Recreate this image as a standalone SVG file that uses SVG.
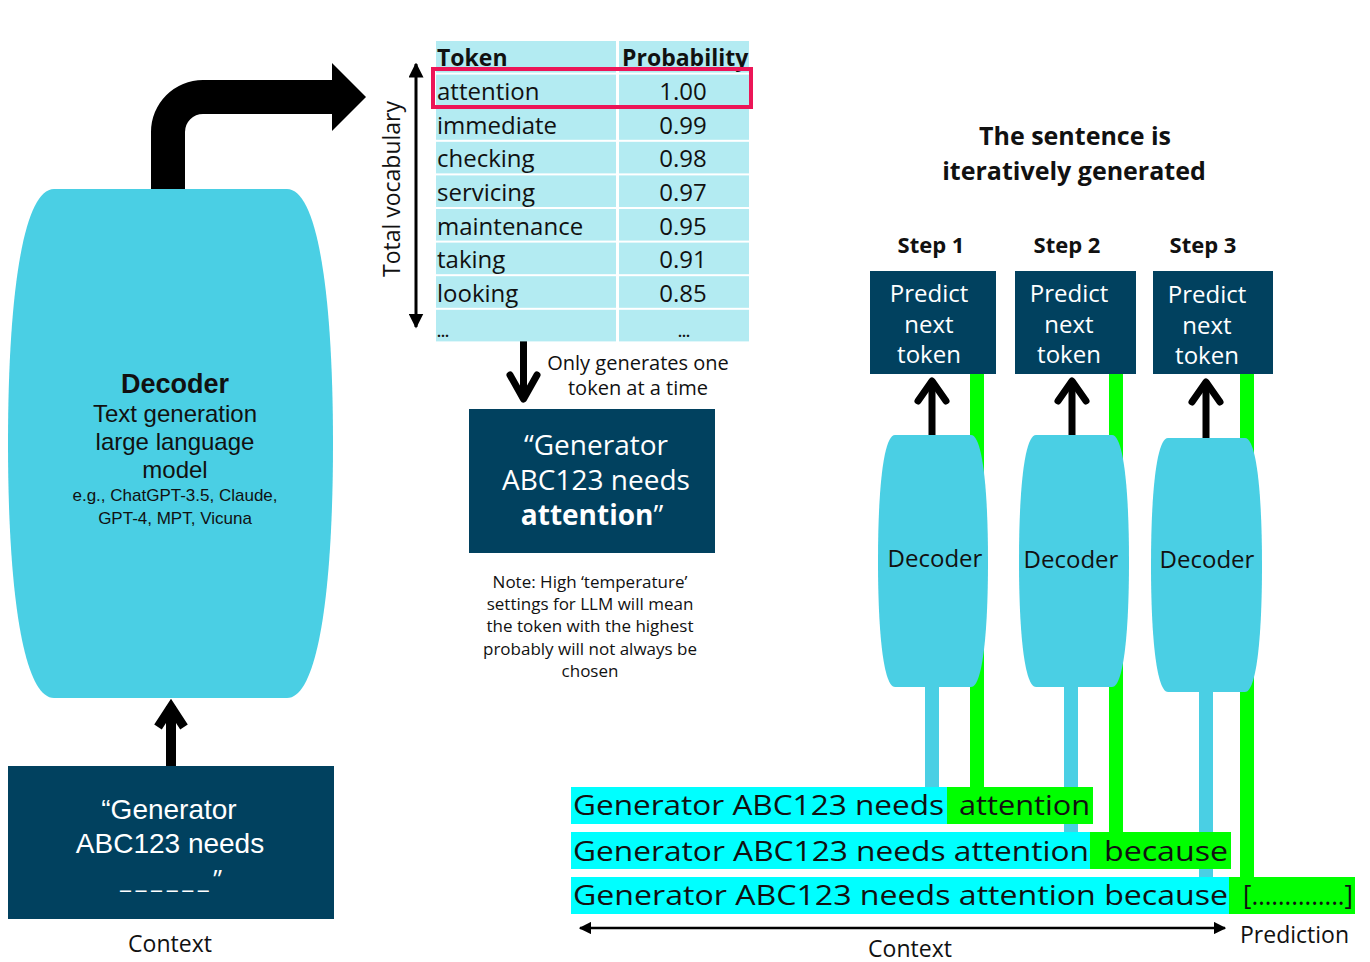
<svg xmlns="http://www.w3.org/2000/svg" width="1370" height="962" viewBox="0 0 1370 962">
<style>
text{font-family:"Open Sans","Liberation Sans",sans-serif;fill:#111}
.lib{font-family:"Liberation Sans",Arial,sans-serif}
.b{font-weight:bold}
.m{text-anchor:middle}
.w{fill:#fff}
.dk{fill:#01415F}
.cy{fill:#4ACFE4}
.tb{fill:#B3EBF2}
.sc{fill:#00FFFF}
.gr{fill:#00FF00}
.tt{font-size:24px}
.big{font-size:28px}
.note{font-size:17px}
.chev{fill:none;stroke:#000;stroke-width:7;stroke-linecap:round;stroke-linejoin:round}
</style>
<defs>
<marker id="ah" viewBox="0 0 10 10" refX="9" refY="5" markerWidth="5" markerHeight="5" orient="auto-start-reverse"><path d="M0,0 L10,5 L0,10 Z" fill="#000"/></marker>
</defs>

<g id="connectors">
  <rect class="gr" x="970" y="374" width="14" height="413"/>
  <rect class="gr" x="1109" y="374" width="14" height="458"/>
  <rect class="gr" x="1240" y="374" width="14" height="503"/>
  <rect class="cy" x="925" y="687" width="14" height="106"/>
  <rect class="cy" x="1064" y="687" width="14" height="145"/>
  <rect class="cy" x="1199" y="690" width="14" height="187"/>
  <path d="M151,193 L151,132 A52,52 0 0 1 203,80 L332,80 L332,63 L366,97 L332,131 L332,114 L203,114 A18,18 0 0 0 185,132 L185,193 Z" fill="#000"/>
  <line x1="171" y1="766" x2="171" y2="706" stroke="#000" stroke-width="10"/>
  <polyline points="158,727 171,707 184,727" fill="none" stroke="#000" stroke-width="9" stroke-linejoin="miter"/>
  <line x1="416" y1="64" x2="416" y2="327" stroke="#000" stroke-width="3" marker-start="url(#ah)" marker-end="url(#ah)"/>
  <line x1="523.5" y1="341" x2="523.5" y2="398" stroke="#000" stroke-width="7"/>
  <polyline class="chev" points="510,375 523.5,399 537,375"/>
  <line x1="932" y1="440" x2="932" y2="382" stroke="#000" stroke-width="7"/>
  <polyline class="chev" points="918,401 932,381 946,401"/>
  <line x1="1072" y1="440" x2="1072" y2="382" stroke="#000" stroke-width="7"/>
  <polyline class="chev" points="1058,401 1072,381 1086,401"/>
  <line x1="1206" y1="444" x2="1206" y2="383" stroke="#000" stroke-width="7"/>
  <polyline class="chev" points="1192,402 1206,382 1220,402"/>
  <line x1="580" y1="928" x2="1225" y2="928" stroke="#000" stroke-width="2.5" marker-start="url(#ah)" marker-end="url(#ah)"/>
</g>

<g id="decoder-main">
  <path class="cy" d="M54,189 H287 C317,189 333,290.8 333,443.5 C333,596.2 317,698 287,698 H54 C24,698 8,596.2 8,443.5 C8,290.8 24,189 54,189 Z"/>
  <text class="lib b m" x="175" y="393" font-size="27">Decoder</text>
  <text class="lib m" x="175" y="422" font-size="24">Text generation</text>
  <text class="lib m" x="175" y="450" font-size="24">large language</text>
  <text class="lib m" x="175" y="478" font-size="24">model</text>
  <text class="lib m" x="175" y="501" font-size="17">e.g., ChatGPT-3.5, Claude,</text>
  <text class="lib m" x="175" y="524" font-size="17">GPT-4, MPT, Vicuna</text>
</g>

<g id="context-input">
  <rect class="dk" x="8" y="766" width="326" height="153"/>
  <text class="lib w m" x="169" y="819" font-size="28">“Generator</text>
  <text class="lib w m" x="170" y="853" font-size="28">ABC123 needs</text>
  <text class="w" x="120" y="888" font-size="25" textLength="102" lengthAdjust="spacing">______”</text>
  <text class="m" x="170" y="952" font-size="23">Context</text>
</g>

<g id="vocab-table">
  <rect class="tb" x="436" y="41" width="180" height="31.6"/>
  <rect class="tb" x="619" y="41" width="130" height="31.6"/>
  <rect class="tb" x="436" y="74.6" width="180" height="31.6"/>
  <rect class="tb" x="619" y="74.6" width="130" height="31.6"/>
  <rect class="tb" x="436" y="108.2" width="180" height="31.6"/>
  <rect class="tb" x="619" y="108.2" width="130" height="31.6"/>
  <rect class="tb" x="436" y="141.8" width="180" height="31.6"/>
  <rect class="tb" x="619" y="141.8" width="130" height="31.6"/>
  <rect class="tb" x="436" y="175.4" width="180" height="31.6"/>
  <rect class="tb" x="619" y="175.4" width="130" height="31.6"/>
  <rect class="tb" x="436" y="209" width="180" height="31.6"/>
  <rect class="tb" x="619" y="209" width="130" height="31.6"/>
  <rect class="tb" x="436" y="242.6" width="180" height="31.6"/>
  <rect class="tb" x="619" y="242.6" width="130" height="31.6"/>
  <rect class="tb" x="436" y="276.2" width="180" height="31.6"/>
  <rect class="tb" x="619" y="276.2" width="130" height="31.6"/>
  <rect class="tb" x="436" y="309.8" width="180" height="31.6"/>
  <rect class="tb" x="619" y="309.8" width="130" height="31.6"/>
  <text class="b" x="437" y="66" font-size="23">Token</text>
  <text class="b" x="622" y="66" font-size="23">Probability</text>
  <text class="tt" x="437" y="100">attention</text><text class="tt m" x="683" y="100">1.00</text>
  <text class="tt" x="437" y="134">immediate</text><text class="tt m" x="683" y="134">0.99</text>
  <text class="tt" x="437" y="167">checking</text><text class="tt m" x="683" y="167">0.98</text>
  <text class="tt" x="437" y="201">servicing</text><text class="tt m" x="683" y="201">0.97</text>
  <text class="tt" x="437" y="235">maintenance</text><text class="tt m" x="683" y="235">0.95</text>
  <text class="tt" x="437" y="268">taking</text><text class="tt m" x="683" y="268">0.91</text>
  <text class="tt" x="437" y="302">looking</text><text class="tt m" x="683" y="302">0.85</text>
  <text class="b" x="437" y="337" font-size="14">...</text><text class="b m" x="684" y="337" font-size="14">...</text>
  <rect x="433" y="69" width="318" height="38" fill="none" stroke="#EC1557" stroke-width="4"/>
  <text transform="translate(400,189) rotate(-90)" class="m" font-size="23">Total vocabulary</text>
</g>

<g id="generation-note">
  <text class="m" x="638" y="370" font-size="20">Only generates  one</text>
  <text class="m" x="638" y="395" font-size="20">token at a time</text>
</g>

<g id="generated-output">
  <rect class="dk" x="469" y="409" width="246" height="144"/>
  <text class="w m big" x="596" y="455">“Generator</text>
  <text class="w m big" x="596" y="490">ABC123 needs</text>
  <text class="w m big" x="592" y="525"><tspan class="b w">attention</tspan>”</text>
</g>

<g id="temperature-note">
  <text class="m note" x="590" y="588">Note: High ‘temperature’</text>
  <text class="m note" x="590" y="610">settings for LLM will mean</text>
  <text class="m note" x="590" y="632">the token with the highest</text>
  <text class="m note" x="590" y="655">probably will not always be</text>
  <text class="m note" x="590" y="677">chosen</text>
</g>

<g id="title">
  <text class="b m" x="1075" y="145" font-size="25">The sentence is</text>
  <text class="b m" x="1074" y="180" font-size="25">iteratively generated</text>
</g>

<g id="step1">
  <text class="b m" x="931" y="253" font-size="22">Step 1</text>
  <rect class="dk" x="870" y="271" width="126" height="103"/>
  <text class="w m tt" x="929" y="302">Predict</text>
  <text class="w m tt" x="929" y="333">next</text>
  <text class="w m tt" x="929" y="363">token</text>
</g>
<g id="step2">
  <text class="b m" x="1067" y="253" font-size="22">Step 2</text>
  <rect class="dk" x="1015" y="271" width="121" height="103"/>
  <text class="w m tt" x="1069" y="302">Predict</text>
  <text class="w m tt" x="1069" y="333">next</text>
  <text class="w m tt" x="1069" y="363">token</text>
</g>
<g id="step3">
  <text class="b m" x="1203" y="253" font-size="22">Step 3</text>
  <rect class="dk" x="1153" y="271" width="120" height="103"/>
  <text class="w m tt" x="1207" y="303">Predict</text>
  <text class="w m tt" x="1207" y="334">next</text>
  <text class="w m tt" x="1207" y="364">token</text>
</g>

<g id="decoder1">
  <path class="cy" d="M895,435 H971 C982,435 988,485 988,561 C988,637 982,687 971,687 H895 C884,687 878,637 878,561 C878,485 884,435 895,435 Z"/>
  <text class="m tt" x="935" y="567">Decoder</text>
</g>
<g id="decoder2">
  <path class="cy" d="M1036,435 H1112 C1123,435 1129,485 1129,561 C1129,637 1123,687 1112,687 H1036 C1025,687 1019,637 1019,561 C1019,485 1025,435 1036,435 Z"/>
  <text class="m tt" x="1071" y="568">Decoder</text>
</g>
<g id="decoder3">
  <path class="cy" d="M1168,438 H1245 C1256,438 1262,489 1262,565 C1262,641 1256,692 1245,692 H1168 C1157,692 1151,641 1151,565 C1151,489 1157,438 1168,438 Z"/>
  <text class="m tt" x="1207" y="568">Decoder</text>
</g>

<g id="sentence1">
  <rect class="sc" x="571" y="787" width="376" height="37"/>
  <rect class="gr" x="947" y="787" width="146" height="37"/>
  <text class="big" x="573" y="815" textLength="371" lengthAdjust="spacingAndGlyphs">Generator ABC123 needs</text>
  <text class="big" x="959" y="815" textLength="131" lengthAdjust="spacingAndGlyphs">attention</text>
</g>
<g id="sentence2">
  <rect class="sc" x="571" y="832" width="519" height="37"/>
  <rect class="gr" x="1090" y="832" width="141" height="37"/>
  <text class="big" x="573" y="861" textLength="516" lengthAdjust="spacingAndGlyphs">Generator ABC123 needs attention</text>
  <text class="big" x="1104" y="861" textLength="124" lengthAdjust="spacingAndGlyphs">because</text>
</g>
<g id="sentence3">
  <rect class="sc" x="571" y="877" width="658" height="37"/>
  <rect class="gr" x="1229" y="877" width="126" height="37"/>
  <text class="big" x="573" y="905" textLength="655" lengthAdjust="spacingAndGlyphs">Generator ABC123 needs attention because</text>
  <text class="big" x="1243" y="905" textLength="110" lengthAdjust="spacingAndGlyphs">[…………..]</text>
</g>

<g id="labels">
  <text class="m" x="910" y="957" font-size="23">Context</text>
  <text x="1240" y="943" font-size="23">Prediction</text>
</g>
</svg>
